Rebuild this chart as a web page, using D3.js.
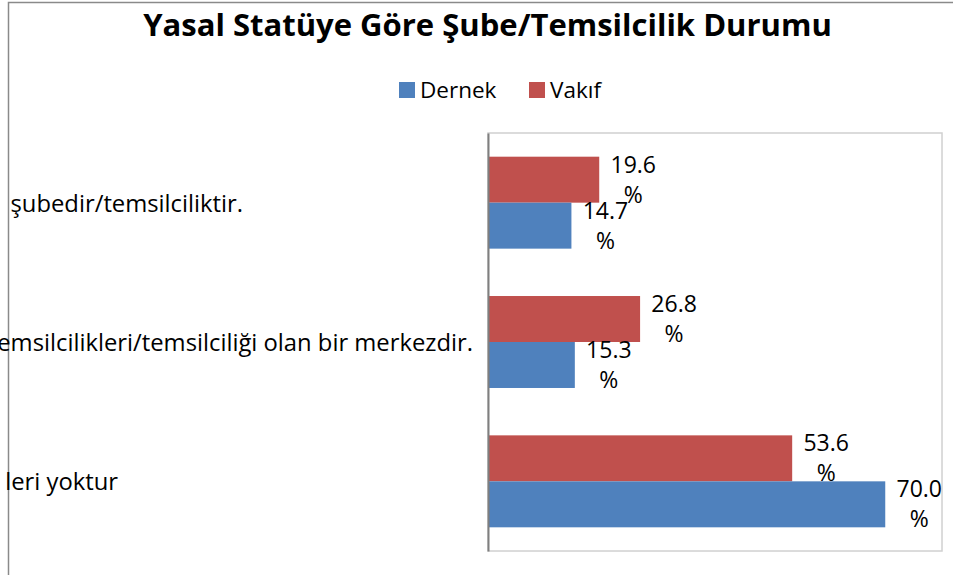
<!DOCTYPE html>
<html>
<head>
<meta charset="utf-8">
<script src="https://cdn.jsdelivr.net/npm/d3@7"></script>
<style>
  body { margin: 0; background: #fff; }
  text { font-family: "Open Sans", sans-serif; fill: #000; }
</style>
</head>
<body>
<script>
const categories = ['şubedir/temsilciliktir.', 'emsilcilikleri/temsilciliği olan bir merkezdir.', 'leri yoktur']
const seriesNames = ['Vakıf', 'Dernek']
const vakif = [19.6, 26.8, 53.6]
const dernek = [14.7, 15.3, 70.0]
const colors = { 'Dernek': '#4f81bd', 'Vakıf': '#c0504d' }

const w = 953
const h = 575
const plot = { left: 488, right: 942, top: 133, bottom: 551 }
// where each clipped category label ends (the original labels run off the left edge)
const labelEnds = [243, 473, 118]

const svg = d3.select('body').append('svg')
  .attr('width', w)
  .attr('height', h)

// outer chart frame (only left and top are visible)
svg.append('path')
  .attr('d', `M8.5,${h} V2.5 H${w}`)
  .attr('fill', 'none')
  .attr('stroke', '#8a8a8a')
  .attr('stroke-width', 1.5)

const title = svg.append('text')
  .attr('x', 487.5)
  .attr('y', 36)
  .attr('text-anchor', 'middle')
  .style('font-weight', 'bold')
  .style('font-size', '30px')
  .text('Yasal Statüye Göre Şube/Temsilcilik Durumu')
// fit the title to the width it has in the original
const tw = title.node().getComputedTextLength()
title.style('font-size', (30 * 689 / tw) + 'px')

// legend
const legendPos = [{ name: 'Dernek', x: 399 }, { name: 'Vakıf', x: 529 }]
const legend = svg.selectAll('.legend')
  .data(legendPos)
  .enter()
  .append('g')
  .attr('class', 'legend')
  .attr('transform', d => `translate(${d.x},82)`)
legend.append('rect')
  .attr('width', 16)
  .attr('height', 16)
  .attr('fill', d => colors[d.name])
legend.append('text')
  .attr('x', 21)
  .attr('y', 16)
  .style('font-size', '22.5px')
  .text(d => d.name)

const xScale = d3.scaleLinear()
  .domain([0, 80])
  .range([plot.left, plot.right])

const yScale = d3.scaleBand()
  .domain(categories)
  .range([plot.top, plot.bottom])
  .paddingInner(0.34)
  .paddingOuter(0.17)

const ySeries = d3.scaleBand()
  .domain(seriesNames)
  .range([0, yScale.bandwidth()])

// plot area border
svg.append('rect')
  .attr('x', plot.left)
  .attr('y', plot.top)
  .attr('width', plot.right - plot.left)
  .attr('height', plot.bottom - plot.top)
  .attr('fill', 'none')
  .attr('stroke', '#d0d0d0')
  .attr('stroke-width', 1.5)

const rows = []
categories.forEach((c, i) => {
  rows.push({ cat: c, series: 'Vakıf', value: vakif[i] })
  rows.push({ cat: c, series: 'Dernek', value: dernek[i] })
})

svg.selectAll('rect.bar')
  .data(rows)
  .enter()
  .append('rect')
  .attr('class', 'bar')
  .attr('x', xScale(0))
  .attr('y', d => yScale(d.cat) + ySeries(d.series))
  .attr('width', d => xScale(d.value) - xScale(0))
  .attr('height', ySeries.bandwidth())
  .attr('fill', d => colors[d.series])

// data labels, wrapped onto two lines like the original
const labels = svg.selectAll('text.val')
  .data(rows)
  .enter()
  .append('text')
  .attr('class', 'val')
  .attr('text-anchor', 'middle')
  .style('font-size', '23px')
  .attr('transform', d => {
    const cy = yScale(d.cat) + ySeries(d.series) + ySeries.bandwidth() / 2
    return `translate(${xScale(d.value) + 34},${cy})`
  })
labels.append('tspan')
  .attr('x', 0)
  .attr('y', -7)
  .text(d => d.value.toFixed(1))
labels.append('tspan')
  .attr('x', 0)
  .attr('y', 23)
  .text('%')

// category axis
const yAxis = d3.axisLeft(yScale).tickSize(0).tickFormat('')
svg.append('g')
  .attr('transform', `translate(${plot.left},0)`)
  .call(yAxis)
  .call(g => g.select('.domain').attr('stroke', '#7f7f7f').attr('stroke-width', 2))

svg.selectAll('text.cat')
  .data(categories)
  .enter()
  .append('text')
  .attr('class', 'cat')
  .attr('x', (d, i) => labelEnds[i])
  .attr('y', d => yScale(d) + yScale.bandwidth() / 2 + 9)
  .attr('text-anchor', 'end')
  .style('font-size', '23.8px')
  .text(d => d)
</script>
</body>
</html>
